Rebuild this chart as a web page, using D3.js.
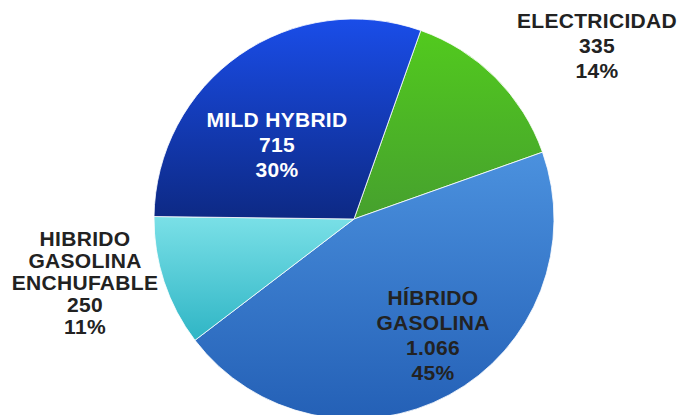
<!DOCTYPE html>
<html>
<head>
<meta charset="utf-8">
<script src="https://cdn.jsdelivr.net/npm/d3@7"></script>
<style>
  body { margin: 0; background: #fff; }
  text { font-family: "Liberation Sans", Arial, sans-serif; font-weight: bold; }
</style>
</head>
<body>
<div id="vis"></div>
<script>
// data
var categories = ["ELECTRICIDAD", "HÍBRIDO GASOLINA", "HIBRIDO GASOLINA ENCHUFABLE", "MILD HYBRID"];
var values = [335, 1066, 250, 715];
var valueLabels = ["335", "1.066", "250", "715"];
var pctLabels = ["14%", "45%", "11%", "30%"];

// styling / layout
var gradients = [
  ["#52ca1e", "#46a02e"],
  ["#4b91de", "#2460b6"],
  ["#7ae0e7", "#2fb5c5"],
  ["#1a4de8", "#0d2984"]
];
var textColors = ["#222", "#222", "#222", "#fff"];
var labelLines = [["ELECTRICIDAD"], ["HÍBRIDO", "GASOLINA"], ["HIBRIDO", "GASOLINA", "ENCHUFABLE"], ["MILD HYBRID"]];
var labelPos = [[597, 28], [433, 305], [85, 246], [277, 127]];
var lineHeights = [25, 25, 22, 25];

var width = 679, height = 415,
    cx = 354, cy = 219, radius = 200;

var svg = d3.select("#vis").append("svg")
    .attr("width", width)
    .attr("height", height);

var defs = svg.append("defs");
gradients.forEach(function(g, i) {
  var lg = defs.append("linearGradient")
      .attr("id", "grad" + i)
      .attr("x1", 0).attr("y1", 0).attr("x2", 0).attr("y2", 1);
  lg.append("stop").attr("offset", "0%").attr("stop-color", g[0]);
  lg.append("stop").attr("offset", "100%").attr("stop-color", g[1]);
});

var startDeg = 19.5;
var pie = d3.pie()
    .sort(null)
    .startAngle(startDeg * Math.PI / 180)
    .endAngle(startDeg * Math.PI / 180 + 2 * Math.PI);

var arc = d3.arc().innerRadius(0).outerRadius(radius);

var g = svg.append("g")
    .attr("transform", "translate(" + cx + "," + cy + ")");

g.selectAll("path")
    .data(pie(values))
  .enter().append("path")
    .attr("d", arc)
    .attr("fill", function(d, i) { return "url(#grad" + i + ")"; })
    .attr("stroke", "#fff")
    .attr("stroke-width", 0.8);

// labels
categories.forEach(function(c, i) {
  var lines = labelLines[i].concat([valueLabels[i], pctLabels[i]]);
  var t = svg.append("text")
      .attr("text-anchor", "middle")
      .attr("fill", textColors[i])
      .style("font-size", "21px")
      .style("letter-spacing", "0.3px");
  lines.forEach(function(l, j) {
    t.append("tspan")
        .attr("x", labelPos[i][0])
        .attr("y", labelPos[i][1] + j * lineHeights[i])
        .text(l);
  });
});
</script>
</body>
</html>
